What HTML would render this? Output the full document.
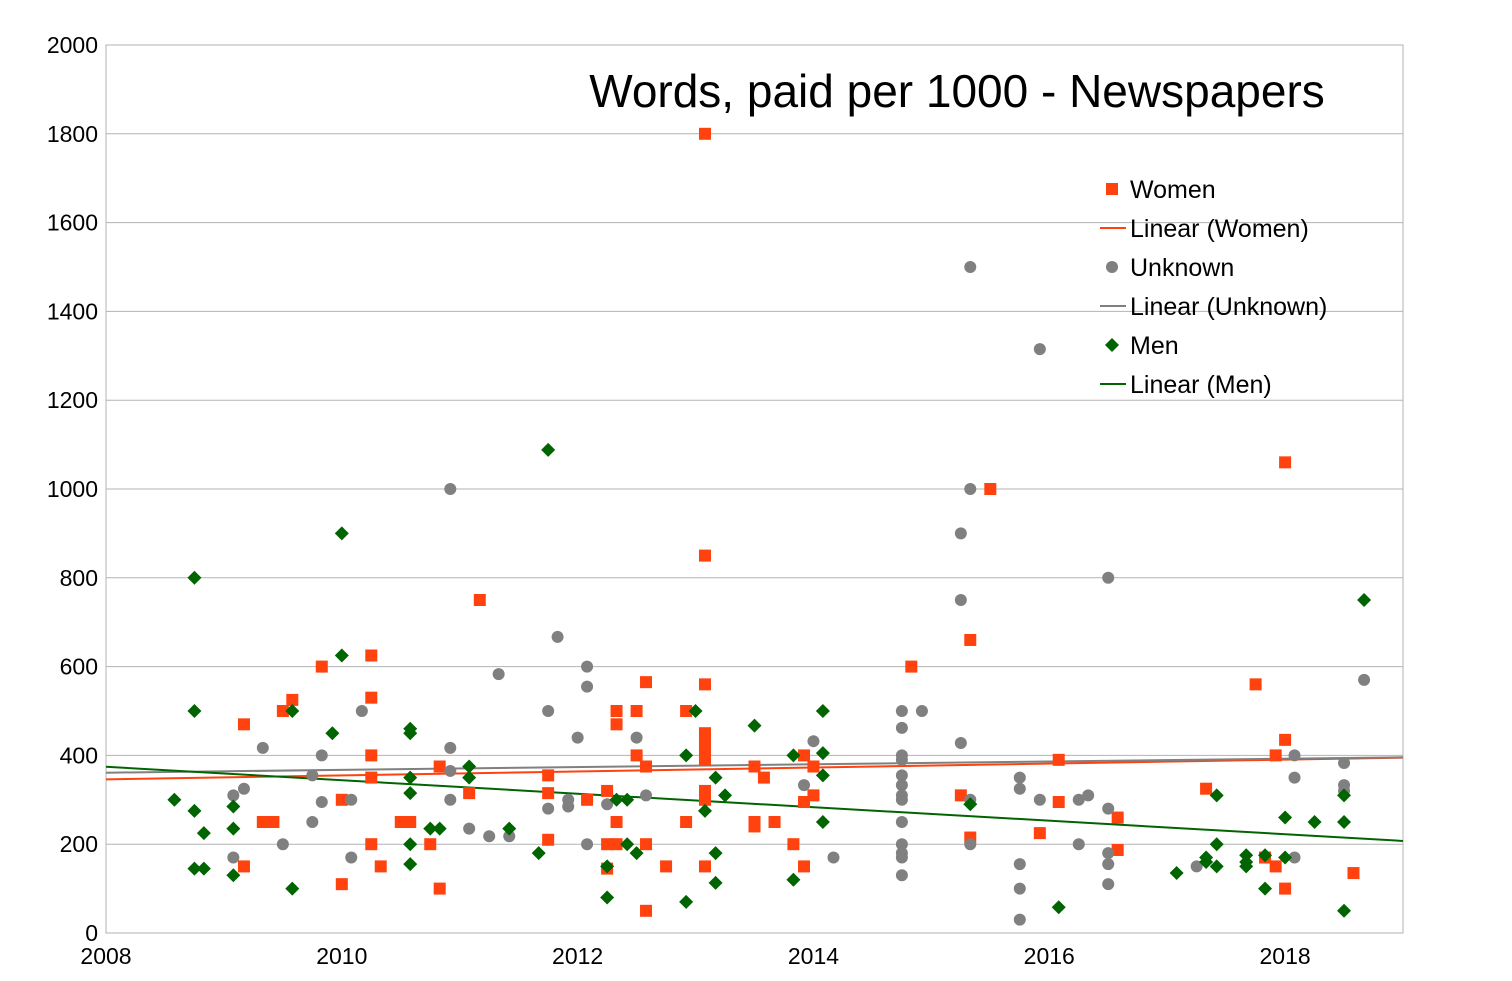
<!DOCTYPE html>
<html><head><meta charset="utf-8"><style>
html,body{margin:0;padding:0;background:#fff;}
svg{display:block;font-family:"Liberation Sans",Arial,sans-serif;}
</style></head><body>
<svg id="chart" width="1512" height="981" viewBox="0 0 1512 981" xmlns="http://www.w3.org/2000/svg">
<g id="grid"></g>
<g id="axes"></g>
<g id="lines"></g>
<g id="marks"></g>
<text x="957" y="107" font-size="46" text-anchor="middle" fill="#000">Words, paid per 1000 - Newspapers</text>
<g id="legend"></g>
</svg>
<script>
const xTicks=[2008,2010,2012,2014,2016,2018];
const yTicks=[0,200,400,600,800,1000,1200,1400,1600,1800,2000];
const womenX=[2013.08,2013.08,2011.17,2010.25,2009.83,2010.25,2009.58,2009.5,2009.17,2010.25,2010.25,2010,2010.25,2010.33,2010,2009.33,2009.42,2009.17,2010.5,2010.58,2010.75,2010.83,2010.83,2011.08,2011.75,2011.75,2011.75,2012.08,2012.25,2012.25,2012.25,2012.33,2012.33,2012.33,2012.33,2012.5,2012.5,2012.58,2012.58,2012.58,2012.58,2012.75,2012.92,2012.92,2013.08,2013.08,2013.08,2013.08,2013.08,2013.08,2013.08,2013.08,2013.5,2013.5,2013.5,2013.58,2013.67,2013.83,2013.92,2013.92,2013.92,2014,2014,2014.83,2015.25,2015.33,2015.33,2015.5,2015.92,2016.08,2016.08,2016.58,2016.58,2017.33,2017.75,2017.83,2017.92,2017.92,2018,2018,2018,2018.58];
const womenY=[1800,850,750,625,600,530,525,500,470,400,350,300,200,150,110,250,250,150,250,250,200,375,100,315,355,315,210,300,200,320,145,500,470,250,200,500,400,565,375,200,50,150,500,250,560,450,425,400,390,320,300,150,375,250,240,350,250,200,400,295,150,375,310,600,310,660,215,1000,225,390,295,260,187,325,560,170,400,150,1060,435,100,135];
const unknownX=[2010.92,2015.33,2015.92,2015.33,2015.25,2015.25,2016.5,2011.83,2012.08,2012.08,2011.33,2011.75,2010.17,2014.75,2014.92,2014.75,2015.25,2018.67,2009.33,2010.92,2012,2012.5,2014,2009.83,2009.75,2009.17,2009.08,2009.83,2010.08,2010.92,2010.92,2009.75,2009.5,2009.08,2010.08,2011.08,2011.25,2011.42,2011.75,2011.92,2011.92,2012.08,2012.25,2012.58,2013.92,2014.17,2014.75,2014.75,2014.75,2014.75,2014.75,2014.75,2014.75,2014.75,2014.75,2014.75,2014.75,2015.33,2015.33,2015.75,2015.75,2015.75,2015.75,2015.75,2015.92,2016.25,2016.33,2016.25,2016.5,2016.5,2016.5,2016.5,2017.25,2018.08,2018.08,2018.08,2018.5,2018.5,2018.5];
const unknownY=[1000,1500,1315,1000,900,750,800,667,600,555,583,500,500,500,500,462,428,570,417,417,440,440,432,400,355,325,310,295,300,300,365,250,200,170,170,235,218,218,280,300,285,200,290,310,333,170,400,390,355,333,310,300,250,200,180,170,130,300,200,350,325,155,100,30,300,300,310,200,280,180,155,110,150,400,350,170,383,333,320];
const menX=[2011.75,2010,2008.75,2010,2018.67,2008.75,2009.58,2013,2014.08,2009.92,2010.58,2010.58,2013.5,2012.92,2013.83,2014.08,2011.08,2011.08,2010.58,2013.17,2014.08,2008.58,2008.75,2009.08,2010.58,2013.25,2012.33,2012.42,2013.08,2015.33,2017.42,2018.5,2018,2018.25,2018.5,2014.08,2008.83,2009.08,2010.75,2010.83,2011.42,2010.58,2012.42,2017.42,2011.67,2012.5,2013.17,2017.67,2017.67,2017.67,2017.83,2018,2017.33,2017.33,2017.42,2012.25,2010.58,2008.75,2008.83,2009.08,2017.08,2013.83,2013.17,2009.58,2017.83,2012.25,2012.92,2016.08,2018.5];
const menY=[1088,900,800,625,750,500,500,500,500,450,450,460,467,400,400,405,375,350,350,350,355,300,275,285,315,310,300,300,275,290,310,310,260,250,250,250,225,235,235,235,235,200,200,200,180,180,180,175,160,150,175,170,170,160,150,150,155,145,145,130,135,120,113,100,100,80,70,58,50];

const X0=106,X1=1403,Y0=933,Y1=45,xmin=2008,xmax=2019,ymax=2000;
const sx=v=>X0+(v-xmin)/(xmax-xmin)*(X1-X0);
const sy=v=>Y0-v/ymax*(Y0-Y1);
const NS="http://www.w3.org/2000/svg";
function mk(tag,attrs,parent){const e=document.createElementNS(NS,tag);for(const k in attrs)e.setAttribute(k,attrs[k]);parent.appendChild(e);return e;}
const grid=document.getElementById('grid'),axes=document.getElementById('axes'),lines=document.getElementById('lines'),marks=document.getElementById('marks'),legend=document.getElementById('legend');
yTicks.forEach(t=>{
  const l=mk('line',{x1:X0,x2:X1,y1:sy(t),y2:sy(t),stroke:'#b3b3b3','stroke-width':1},grid);
  
  
  const tx=mk('text',{x:98,y:sy(t)+8,'font-size':23,'text-anchor':'end',fill:'#000'},axes);
  tx.textContent=t;
  
  
});
const fr=mk('rect',{x:X0,y:Y1,width:X1-X0,height:Y0-Y1,fill:'none',stroke:'#b3b3b3','stroke-width':1},axes);


xTicks.forEach(t=>{
  const tx=mk('text',{x:sx(t),y:964,'font-size':23,'text-anchor':'middle',fill:'#000'},axes);
  tx.textContent=t;
  
  
});
function reg(xs,ys){const n=xs.length;let mx=0,my=0;for(let i=0;i<n;i++){mx+=xs[i];my+=ys[i];}mx/=n;my/=n;let a=0,b=0;for(let i=0;i<n;i++){a+=(xs[i]-mx)*(ys[i]-my);b+=(xs[i]-mx)**2;}const m=a/b;return v=>my+m*(v-mx);}
const series=[
 {name:'women',x:womenX,y:womenY,color:'#ff420e',shape:'square',label:'Women'},
 {name:'unknown',x:unknownX,y:unknownY,color:'#808080',shape:'circle',label:'Unknown'},
 {name:'men',x:menX,y:menY,color:'#006400',shape:'diamond',label:'Men'}];
function marker(shape,cx,cy,color,parent){
  if(shape==='square')return mk('rect',{x:cx-6,y:cy-6,width:12,height:12,fill:color},parent);
  if(shape==='circle')return mk('circle',{cx:cx,cy:cy,r:6,fill:color},parent);
  return mk('polygon',{points:`${cx},${cy-7} ${cx+7},${cy} ${cx},${cy+7} ${cx-7},${cy}`,fill:color},parent);
}
series.forEach(s=>{
  const f=reg(s.x,s.y);
  const ln=mk('line',{x1:sx(xmin),y1:sy(f(xmin)),x2:sx(xmax),y2:sy(f(xmax)),stroke:s.color,'stroke-width':2},lines);
  
  
  s.x.forEach((xv,i)=>{
    const m=marker(s.shape,sx(xv),sy(s.y[i]),s.color,marks);
    
    
  });
});
const ly=[189,228,267,306,345,384];
series.forEach((s,i)=>{
  const y1=ly[i*2],y2=ly[i*2+1];
  const m=marker(s.shape,1112,y1,s.color,legend);
  
  
  const t1=mk('text',{x:1130,y:y1+9,'font-size':25,fill:'#000'},legend);
  t1.textContent=s.label;
  
  
  const l=mk('line',{x1:1100,x2:1126,y1:y2,y2:y2,stroke:s.color,'stroke-width':2},legend);
  
  
  const t2=mk('text',{x:1130,y:y2+9,'font-size':25,fill:'#000'},legend);
  t2.textContent='Linear ('+s.label+')';
  
  
});
</script>
</body></html>
